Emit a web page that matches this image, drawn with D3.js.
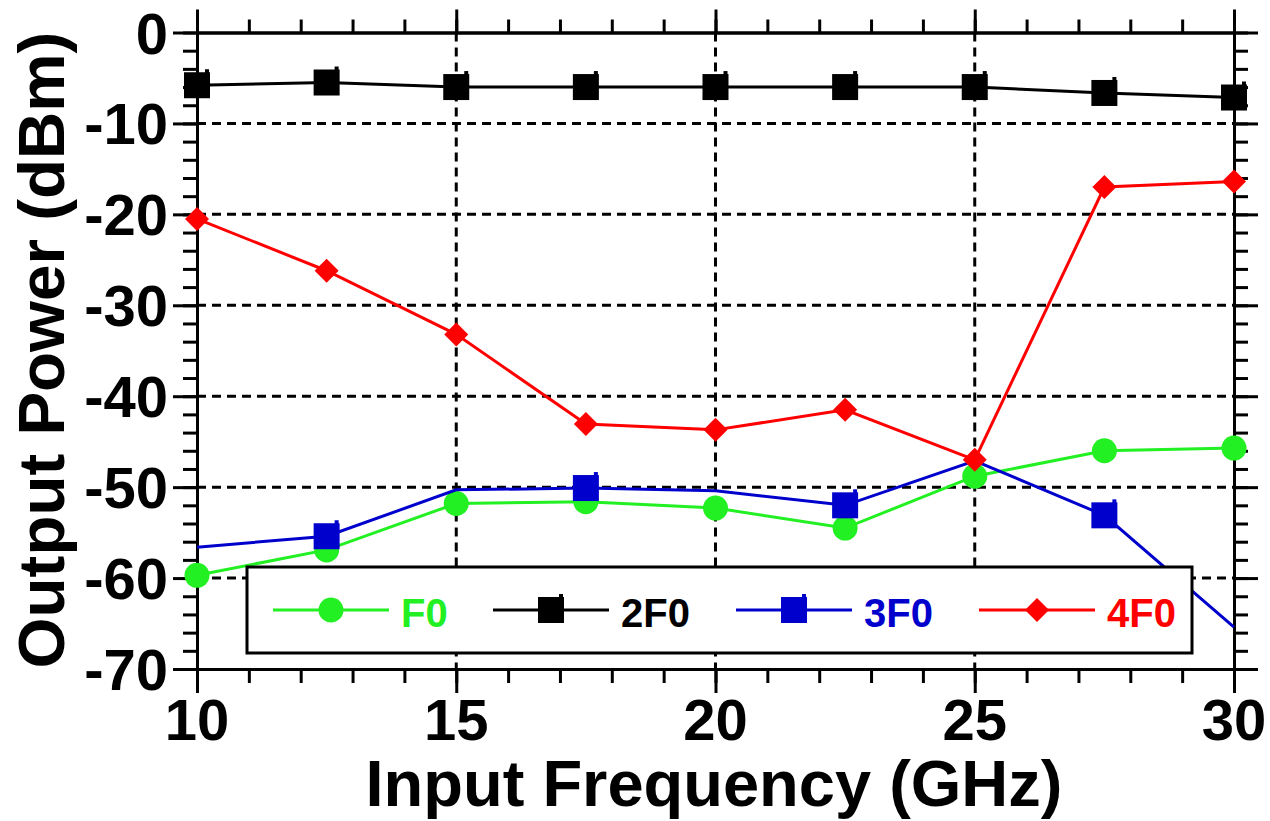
<!DOCTYPE html>
<html>
<head>
<meta charset="utf-8">
<script src="https://cdn.jsdelivr.net/npm/d3@7"></script>
<style>
  html, body { margin: 0; padding: 0; background: #fff; }
  svg { display: block; font-family: "Liberation Sans", Arial, sans-serif; font-weight: bold; }
</style>
</head>
<body>
<svg id="chart" width="1270" height="821"></svg>
<script>
// ---- data ----
const freqs   = [10, 12.5, 15, 17.5, 20, 22.5, 25, 27.5, 30];
const f0      = [-59.7, -56.9, -51.8, -51.6, -52.3, -54.5, -48.8, -46.0, -45.7];
const f2      = [-5.8, -5.5, -6.0, -6.0, -6.0, -6.0, -6.0, -6.65, -7.15];
const f3      = [-56.6, -55.4, -50.3, -50.1, -50.4, -52.0, -47.1, -53.1, -65.4];
const f4      = [-20.5, -26.2, -33.2, -43.05, -43.7, -41.5, -47.0, -17.0, -16.4];
const f3Marks = [false, true, false, true, false, true, false, true, false];
const seriesNames = ["F0", "2F0", "3F0", "4F0"];
const xTicks = [10, 15, 20, 25, 30];
const yTicks = [0, -10, -20, -30, -40, -50, -60, -70];
const xTitle = "Input Frequency (GHz)";
const yTitle = "Output Power (dBm)";

// ---- layout ----
const svg = d3.select("#chart");
const x = d3.scaleLinear().domain([10, 30]).range([197, 1234]);
const y = d3.scaleLinear().domain([0, -70]).range([32.5, 669]);
const X0 = x(10), X1 = x(30), Y0 = y(0), Y1 = y(-70);

const series = [
  { name: seriesNames[0], vals: f0, color: "#22f022", shape: "circle", marks: freqs.map(() => true) },
  { name: seriesNames[1], vals: f2, color: "#000000", shape: "square", marks: freqs.map(() => true) },
  { name: seriesNames[2], vals: f3, color: "#0000cc", shape: "square", marks: f3Marks },
  { name: seriesNames[3], vals: f4, color: "#ff0000", shape: "diamond", marks: freqs.map(() => true) }
];

// ---- grid ----
const grid = svg.append("g").attr("stroke", "#000").attr("stroke-width", 3).attr("stroke-dasharray", "9,6");
grid.selectAll("line.h").data(yTicks.filter(v => v < 0 && v > -70)).enter().append("line")
  .attr("x1", X0).attr("x2", X1).attr("y1", d => y(d)).attr("y2", d => y(d));
grid.selectAll("line.v").data(xTicks.filter(v => v > 10 && v < 30)).enter().append("line")
  .attr("y1", Y0).attr("y2", Y1).attr("x1", d => x(d)).attr("x2", d => x(d));

// ---- axes ----
const minorX = d3.range(10, 30.001, 1);
const minorY = d3.range(0, -70.001, -2);
function styleAxis(g) {
  g.selectAll("path.domain").attr("stroke", "#000").attr("stroke-width", 3);
  g.selectAll(".tick line").attr("stroke", "#000").attr("stroke-width", 3);
  g.selectAll("text").remove();
}
function addAxis(gen, tr) {
  svg.append("g").attr("transform", tr).call(gen).call(styleAxis);
}
addAxis(d3.axisBottom(x).tickValues(minorX).tickSize(14).tickSizeOuter(0), `translate(0,${Y1})`);
addAxis(d3.axisBottom(x).tickValues(xTicks).tickSize(24).tickSizeOuter(0), `translate(0,${Y1})`);
addAxis(d3.axisTop(x).tickValues(minorX).tickSize(13).tickSizeOuter(0), `translate(0,${Y0})`);
addAxis(d3.axisTop(x).tickValues(xTicks).tickSize(23).tickSizeOuter(0), `translate(0,${Y0})`);
addAxis(d3.axisLeft(y).tickValues(minorY).tickSize(14).tickSizeOuter(0), `translate(${X0},0)`);
addAxis(d3.axisLeft(y).tickValues(yTicks).tickSize(24).tickSizeOuter(0), `translate(${X0},0)`);
addAxis(d3.axisRight(y).tickValues(minorY).tickSize(14).tickSizeOuter(0), `translate(${X1},0)`);
addAxis(d3.axisRight(y).tickValues(yTicks).tickSize(24).tickSizeOuter(0), `translate(${X1},0)`);

// tick labels
svg.append("g").selectAll("text").data(xTicks).enter().append("text")
  .attr("x", d => x(d)).attr("y", 740).attr("text-anchor", "middle")
  .attr("font-size", 58).attr("fill", "#000").text(d => d);
svg.append("g").selectAll("text").data(yTicks).enter().append("text")
  .attr("x", 168).attr("y", d => y(d) + 21).attr("text-anchor", "end")
  .attr("font-size", 58).attr("fill", "#000").text(d => d);

// axis titles
svg.append("text").attr("x", 714).attr("y", 806).attr("text-anchor", "middle")
  .attr("font-size", 65).attr("fill", "#000").text(xTitle);
svg.append("text").attr("transform", "translate(64,350) rotate(-90)").attr("text-anchor", "middle")
  .attr("font-size", 65.5).attr("fill", "#000").text(yTitle);

// ---- markers ----
function drawMarker(g, shape, cx, cy, color, s) {
  if (shape === "circle") {
    g.append("circle").attr("cx", cx).attr("cy", cy).attr("r", 12.5 * s).attr("fill", color);
  } else if (shape === "square") {
    const h = 13 * s;
    g.append("rect").attr("x", cx - h).attr("y", cy - h).attr("width", 2 * h).attr("height", 2 * h).attr("fill", color);
    g.append("rect").attr("x", cx + h - 5).attr("y", cy - h - 3).attr("width", 4).attr("height", 4).attr("fill", color);
  } else {
    const h = 12 * s;
    g.append("path").attr("d", `M${cx},${cy - h}L${cx + h},${cy}L${cx},${cy + h}L${cx - h},${cy}Z`).attr("fill", color);
  }
}

// ---- series ----
const line = d3.line().x(d => x(d[0])).y(d => y(d[1]));
series.forEach(s => {
  const pts = freqs.map((f, i) => [f, s.vals[i]]);
  const g = svg.append("g");
  g.append("path").attr("d", line(pts)).attr("fill", "none").attr("stroke", s.color).attr("stroke-width", 3);
  pts.forEach((p, i) => { if (s.marks[i]) drawMarker(g, s.shape, x(p[0]), y(p[1]), s.color, 1); });
});

// ---- legend ----
const lg = svg.append("g");
lg.append("rect").attr("x", 247).attr("y", 567).attr("width", 945).attr("height", 86)
  .attr("fill", "#fff").attr("stroke", "#000").attr("stroke-width", 3);
const legendX = [273, 493, 736, 979];
series.forEach((s, i) => {
  const lx = legendX[i], ly = 610;
  lg.append("line").attr("x1", lx).attr("x2", lx + 116).attr("y1", ly).attr("y2", ly)
    .attr("stroke", s.color).attr("stroke-width", 3);
  drawMarker(lg, s.shape, lx + 58, ly, s.color, 1);
  lg.append("text").attr("x", lx + 128).attr("y", 627).attr("font-size", 40)
    .attr("fill", s.color).text(s.name);
});
</script>
</body>
</html>
